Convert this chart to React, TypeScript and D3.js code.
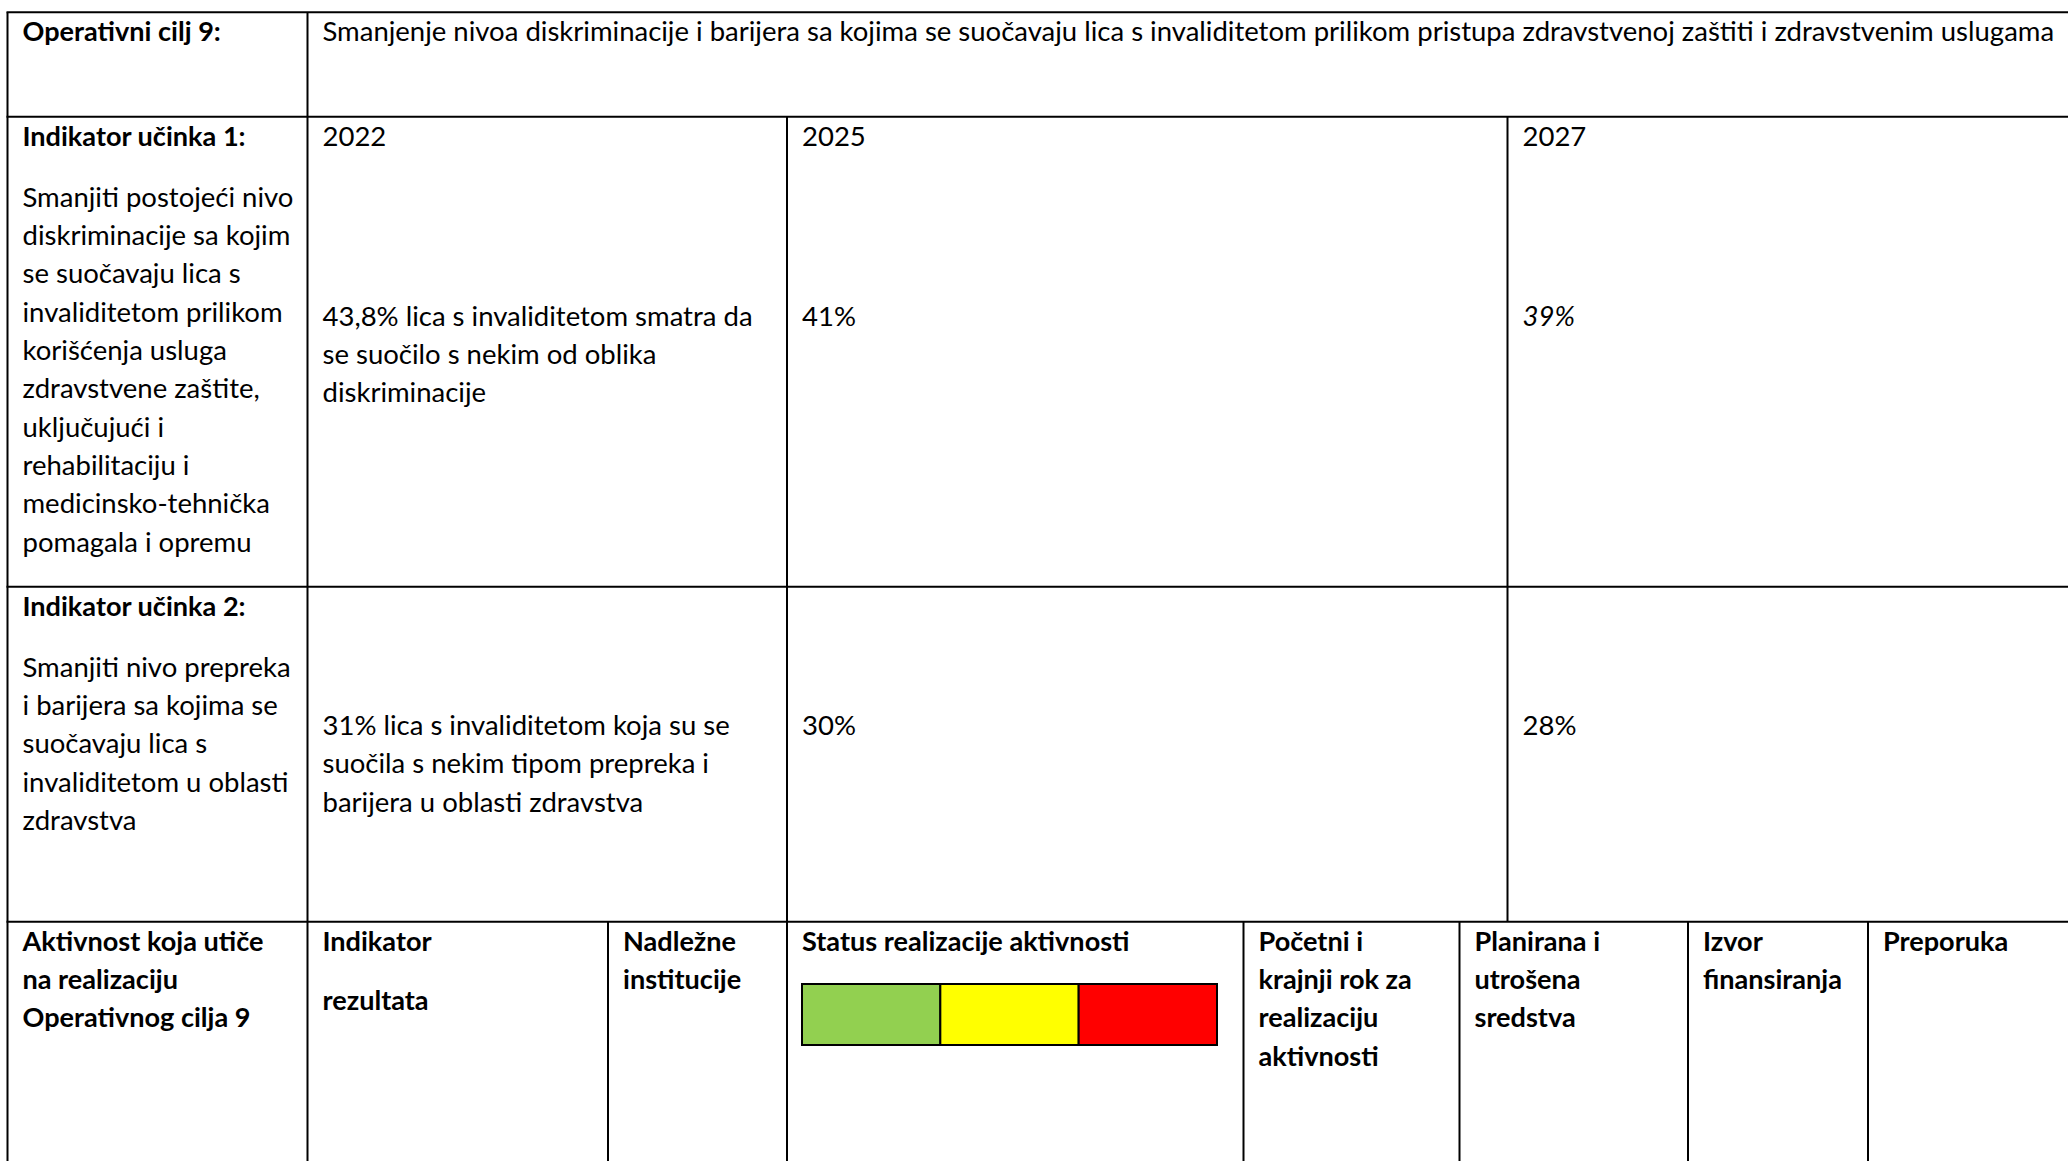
import React from "react";
import * as d3 from "d3";

// ---------- data ----------
const goalLabel = "Operativni cilj 9:";
const goalText =
  "Smanjenje nivoa diskriminacije i barijera sa kojima se suočavaju lica s invaliditetom prilikom pristupa zdravstvenoj zaštiti i zdravstvenim uslugama";
const years = ["2022", "2025", "2027"];

const ind1Title = "Indikator učinka 1:";
const ind1Lines = [
  "Smanjiti postojeći nivo",
  "diskriminacije sa kojim",
  "se suočavaju lica s",
  "invaliditetom prilikom",
  "korišćenja usluga",
  "zdravstvene zaštite,",
  "uključujući i",
  "rehabilitaciju i",
  "medicinsko-tehnička",
  "pomagala i opremu",
];
const ind1Baseline = [
  "43,8% lica s invaliditetom smatra da",
  "se suočilo s nekim od oblika",
  "diskriminacije",
];
const ind1Targets = ["41%", "39%"];

const ind2Title = "Indikator učinka 2:";
const ind2Lines = [
  "Smanjiti nivo prepreka",
  "i barijera sa kojima se",
  "suočavaju lica s",
  "invaliditetom u oblasti",
  "zdravstva",
];
const ind2Baseline = [
  "31% lica s invaliditetom koja su se",
  "suočila s nekim tipom prepreka i",
  "barijera u oblasti zdravstva",
];
const ind2Targets = ["30%", "28%"];

const activityHeaders: string[][] = [
  ["Aktivnost koja utiče", "na realizaciju", "Operativnog cilja 9"],
  ["Indikator", "", "rezultata"],
  ["Nadležne", "institucije"],
  ["Status realizacije aktivnosti"],
  ["Početni i", "krajnji rok za", "realizaciju", "aktivnosti"],
  ["Planirana i", "utrošena", "sredstva"],
  ["Izvor", "finansiranja"],
  ["Preporuka"],
];
const statusColors = ["#92D050", "#FFFF00", "#FF0000"];

// ---------- layout ----------
const W = 2068;
const H = 1161;
const FONT = "Lato, 'Open Sans', sans-serif";
const FS = 27.5;
const FSB = 27.1;
const LH = 38.33;
const PAD = 15;

const rowY = [12.3, 116.7, 586.7, 921.7];
const colTop = [7.5, 307.5, 787, 1507.5];
const colBottom = [7.5, 307.5, 608, 787, 1243.5, 1459.5, 1688, 1868];
const firstBase = 29;
const midBase = [209, 148.3]; // offsets of centred cell text from row top

const barScale = d3.scaleBand<string>().domain(statusColors).range([802, 1217]).padding(0);
const barTop = 984;
const barBottom = 1045;

function Lines({
  x,
  y,
  lines,
  bold,
  italic,
}: {
  x: number;
  y: number;
  lines: string[];
  bold?: boolean;
  italic?: boolean;
}) {
  return (
    <g>
      {lines.map((t, i) =>
        t ? (
          <text
            key={i}
            x={x}
            y={y + i * LH}
            fontFamily={FONT}
            fontSize={bold ? FSB : FS}
            fontWeight={bold ? 700 : 400}
            fontStyle={italic ? "italic" : "normal"}
            fill="#000"
          >
            {t}
          </text>
        ) : null
      )}
    </g>
  );
}

export default function App() {
  const sw = 2;
  const r1Mid = rowY[1] + midBase[0];
  const r2Mid = rowY[2] + midBase[1];
  return (
    <svg
      width={W}
      height={H}
      style={{ position: "absolute", left: 0, top: 0, background: "#fff" }}
    >
      <rect x={0} y={0} width={W} height={H} fill="#fff" />
      {rowY.map((y, i) => (
        <line key={"h" + i} x1={colTop[0] - 1} x2={W} y1={y} y2={y} stroke="#000" strokeWidth={sw} />
      ))}
      <line x1={colTop[0]} x2={colTop[0]} y1={rowY[0]} y2={H} stroke="#000" strokeWidth={sw} />
      <line x1={colTop[1]} x2={colTop[1]} y1={rowY[0]} y2={H} stroke="#000" strokeWidth={sw} />
      <line x1={colTop[2]} x2={colTop[2]} y1={rowY[1]} y2={H} stroke="#000" strokeWidth={sw} />
      <line x1={colTop[3]} x2={colTop[3]} y1={rowY[1]} y2={rowY[3]} stroke="#000" strokeWidth={sw} />
      {colBottom.slice(2).map((x, i) => (
        <line key={"vb" + i} x1={x} x2={x} y1={rowY[3]} y2={H} stroke="#000" strokeWidth={sw} />
      ))}

      {/* row 0 */}
      <Lines x={colTop[0] + PAD} y={rowY[0] + firstBase} lines={[goalLabel]} bold />
      <Lines x={colTop[1] + PAD} y={rowY[0] + firstBase} lines={[goalText]} />

      {/* row 1 */}
      <Lines x={colTop[0] + PAD} y={rowY[1] + firstBase} lines={[ind1Title]} bold />
      <Lines x={colTop[0] + PAD} y={rowY[1] + firstBase + 61} lines={ind1Lines} />
      {years.map((yr, i) => (
        <Lines key={yr} x={colTop[i + 1] + PAD} y={rowY[1] + firstBase} lines={[yr]} />
      ))}
      <Lines x={colTop[1] + PAD} y={r1Mid} lines={ind1Baseline} />
      {ind1Targets.map((t, i) => (
        <Lines key={t} x={colTop[i + 2] + PAD} y={r1Mid} lines={[t]} italic={i === 1} />
      ))}

      {/* row 2 */}
      <Lines x={colTop[0] + PAD} y={rowY[2] + firstBase} lines={[ind2Title]} bold />
      <Lines x={colTop[0] + PAD} y={rowY[2] + firstBase + 61} lines={ind2Lines} />
      <Lines x={colTop[1] + PAD} y={r2Mid} lines={ind2Baseline} />
      {ind2Targets.map((t, i) => (
        <Lines key={t} x={colTop[i + 2] + PAD} y={r2Mid} lines={[t]} />
      ))}

      {/* row 3 */}
      {activityHeaders.map((ls, i) => (
        <Lines
          key={i}
          x={colBottom[i] + PAD}
          y={rowY[3] + firstBase}
          lines={i === 1 ? [ls[0]] : ls}
          bold
        />
      ))}
      <Lines x={colBottom[1] + PAD} y={rowY[3] + firstBase + 59.4} lines={[activityHeaders[1][2]]} bold />

      {statusColors.map((c) => (
        <rect
          key={c}
          x={barScale(c)}
          y={barTop}
          width={barScale.bandwidth()}
          height={barBottom - barTop}
          fill={c}
          stroke="#000"
          strokeWidth={2}
        />
      ))}
    </svg>
  );
}
